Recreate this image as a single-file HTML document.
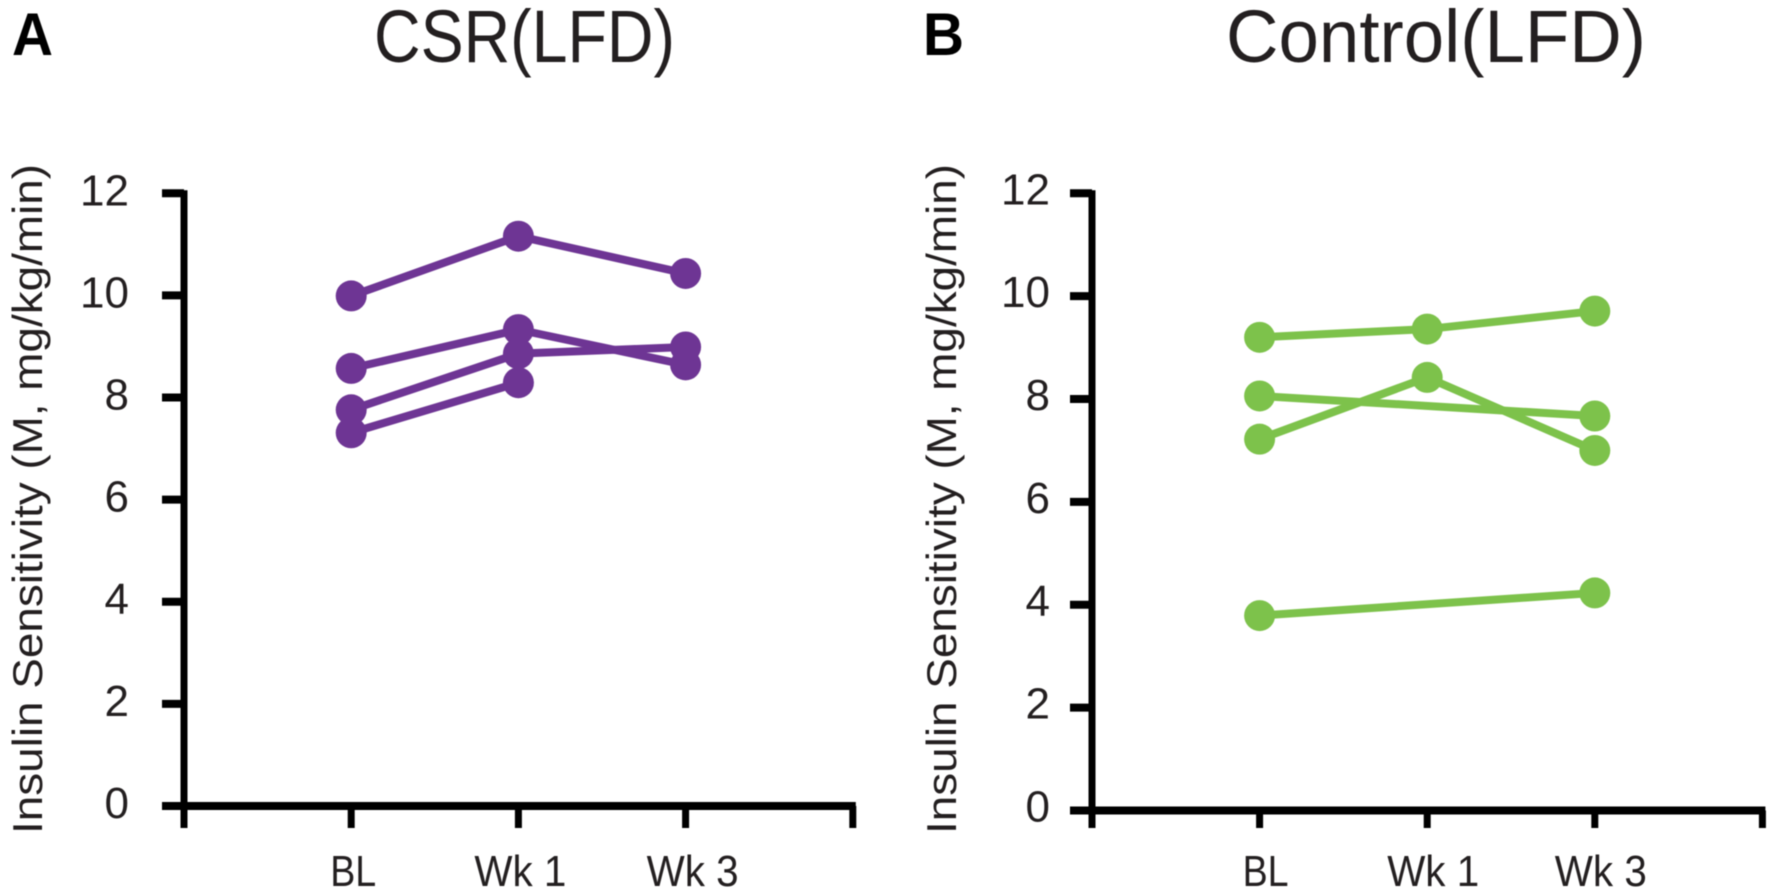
<!DOCTYPE html>
<html lang="en">
<head>
<meta charset="utf-8">
<title>Insulin Sensitivity: CSR(LFD) and Control(LFD)</title>
<style>
html,body{margin:0;padding:0;background:#fff;width:1772px;height:892px;overflow:hidden}
svg{display:block;filter:blur(0.6px)}
text{font-family:"Liberation Sans",sans-serif;fill:#231f20}
</style>
</head>
<body>
<svg id="figure" xmlns="http://www.w3.org/2000/svg" width="1772" height="892" viewBox="0 0 1772 892"></svg>
<script>
const categories = ['BL', 'Wk 1', 'Wk 3'];
const yTickLabels = [0, 2, 4, 6, 8, 10, 12];

const csrSeries1 = [9.99, 11.16, 10.43];
const csrSeries2 = [8.57, 9.33, 8.64];
const csrSeries3 = [7.76, 8.86, 8.99];
const csrSeries4 = [7.31, 8.29, null];

const controlSeries1 = [9.2, 9.36, 9.71];
const controlSeries2 = [8.06, null, 7.67];
const controlSeries3 = [7.22, 8.42, 7.0];
const controlSeries4 = [3.79, null, 4.23];

const NS = 'http://www.w3.org/2000/svg';
const root = document.getElementById('figure');

function make(parent, tag, attrs, content) {
  const el = document.createElementNS(NS, tag);
  for (const k in attrs) el.setAttribute(k, attrs[k]);
  if (content !== undefined) el.textContent = content;
  parent.appendChild(el);
  return el;
}

function drawPanel(p) {
  const g = make(root, 'g', {});
  
  

  const xAt = i => p.axisX + (i + 1) * p.step;
  const yAt = v => p.zeroY - (v / 12) * (p.zeroY - p.topY);

  const letter = make(g, 'text', {x: p.letterX, y: 55, 'font-size': 60, 'font-weight': 'bold', textLength: 41, lengthAdjust: 'spacingAndGlyphs', style: 'fill:#000'}, p.letter);
  
  

  const title = make(g, 'text', {x: p.titleX, y: 62, 'font-size': 74, textLength: p.titleW, lengthAdjust: 'spacingAndGlyphs'}, p.title);
  
  

  const yTitle = make(g, 'text', {transform: 'translate(' + p.yTitleX + ',834) rotate(-90)', x: 0, y: 0, 'font-size': 42, textLength: 670, lengthAdjust: 'spacingAndGlyphs'}, 'Insulin Sensitivity (M, mg/kg/min)');
  
  

  const yAxis = make(g, 'line', {x1: p.axisX, x2: p.axisX, y1: yAt(12) - 3, y2: 828, stroke: '#000', 'stroke-width': 7});
  
  

  const xAxis = make(g, 'line', {x1: p.axisX - 22, x2: xAt(3) + 3, y1: p.zeroY, y2: p.zeroY, stroke: '#000', 'stroke-width': 8});
  
  

  yTickLabels.forEach(v => {
    const tick = make(g, 'line', {x1: p.axisX - 22, x2: p.axisX, y1: yAt(v), y2: yAt(v), stroke: '#000', 'stroke-width': 8});
    
    
    const label = make(g, 'text', {x: p.yLabelRight, y: yAt(v) + p.yLabelDy, 'font-size': 44, 'text-anchor': 'end'}, String(v));
    
    
  });

  [0, 1, 2, 3].forEach(i => {
    const tick = make(g, 'line', {x1: xAt(i), x2: xAt(i), y1: p.zeroY, y2: 828, stroke: '#000', 'stroke-width': 7});
    
    
  });

  categories.forEach((c, i) => {
    const label = make(g, 'text', {x: xAt(i) + p.xLabelDx + (i === 2 ? p.lastLabelDx : 0), y: 886, 'font-size': 44, 'text-anchor': 'middle', textLength: c === 'BL' ? 46 : 92, lengthAdjust: 'spacingAndGlyphs'}, c);
    
    
  });

  p.series.forEach((values, s) => {
    const sg = make(g, 'g', {});
    
    
    const present = values.map((v, i) => [v, i]).filter(d => d[0] !== null);
    const pts = present.map(d => xAt(d[1]) + ',' + yAt(d[0])).join(' ');
    const line = make(sg, 'polyline', {points: pts, fill: 'none', stroke: p.color, 'stroke-width': 8, 'stroke-linejoin': 'round'});
    
    
    present.forEach(d => {
      const dot = make(sg, 'circle', {cx: xAt(d[1]), cy: yAt(d[0]), r: 15.5, fill: p.color});
      
      
    });
  });
}

drawPanel({
  key: 'csr', letter: 'A', letterX: 12, title: 'CSR(LFD)', titleX: 374, titleW: 301,
  axisX: 184, step: 167.2, topY: 193.3, zeroY: 806, yLabelRight: 129, yLabelDy: 12, yTitleX: 42, xLabelDx: 2, lastLabelDx: 5,
  color: '#6e3594', series: [csrSeries1, csrSeries2, csrSeries3, csrSeries4]
});
drawPanel({
  key: 'control', letter: 'B', letterX: 923, title: 'Control(LFD)', titleX: 1226, titleW: 420,
  axisX: 1092, step: 167.6, topY: 193.3, zeroY: 810.5, yLabelRight: 1050, yLabelDy: 11, yTitleX: 956, xLabelDx: 6, lastLabelDx: 0,
  color: '#7dc24b', series: [controlSeries1, controlSeries2, controlSeries3, controlSeries4]
});
</script>
</body>
</html>
